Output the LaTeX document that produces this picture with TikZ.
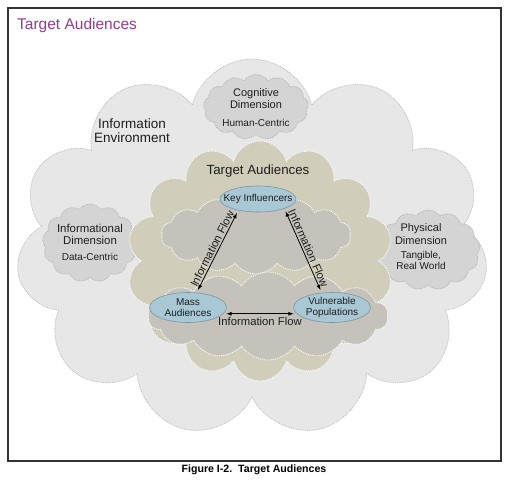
\documentclass[tikz,border=0pt]{standalone}
\usepackage{fontspec}
\setmainfont{Liberation Sans}
\usepackage{xcolor}
\usetikzlibrary{positioning}
\usetikzlibrary{shapes,arrows}

\definecolor{envgray}{RGB}{231,231,231}
\definecolor{dimgray}{RGB}{212,212,212}
\definecolor{takhaki}{RGB}{208,206,186}
\definecolor{innergray}{RGB}{196,194,186}
\definecolor{audblue}{RGB}{168,200,213}
\definecolor{audline}{RGB}{127,150,160}
\definecolor{titlepurple}{RGB}{150,60,140}
\definecolor{txtgray}{RGB}{30,30,30}

\tikzset{
  envcloud/.style={cloud, cloud puffs=11, cloud ignores aspect, fill=envgray, draw=gray!55, densely dotted, line width=0.8pt, inner sep=0pt},
  dimcloud/.style={cloud, cloud puffs=13, cloud puff arc=110, cloud ignores aspect, fill=dimgray, draw=gray!60, densely dotted, line width=0.8pt, inner sep=0pt},
  tacloud/.style={cloud, cloud puffs=14, cloud ignores aspect, fill=takhaki, draw=white, densely dotted, line width=0.9pt, inner sep=0pt},
  innercloud/.style={cloud, cloud puffs=14, cloud puff arc=110, cloud ignores aspect, fill=innergray, draw=white, densely dotted, line width=0.9pt, inner sep=0pt},
  audience/.style={ellipse, fill=audblue, draw=audline, line width=0.6pt, inner sep=0pt},
  txt/.style={inner sep=0pt, align=center, text=txtgray},
  flow/.style={latex-latex, line width=0.8pt, shorten >=3pt, shorten <=3pt},
  flowlabel/.style={font=\fontsize{11.3}{13}\selectfont, text=txtgray, inner sep=1.5pt},
  every label/.style={font=\fontsize{10}{11}\selectfont, align=center, text=txtgray}
}

\begin{document}
\begin{tikzpicture}[x=1pt,y=-1pt]
  \useasboundingbox (0,0) rectangle (510,479);
  \fill[white] (0,0) rectangle (510,479);
  \draw[line width=1.3pt, draw=black!80] (8,8) rectangle (501,461);
  \node(title) [anchor=west, inner sep=0pt, text=titlepurple, font=\fontsize{15.5}{17}\selectfont] at (17,25) {Target Audiences};

  % clouds, back to front
  \node(env) [envcloud, minimum width=472pt, minimum height=378pt] at (252,248) {};
  \node(cog) [dimcloud, minimum width=105pt, minimum height=65pt] at (256,107) {};
  \node(infodim) [dimcloud, minimum width=95pt, minimum height=78pt] at (90,243) {};
  \node(phys) [dimcloud, minimum width=104pt, minimum height=80pt] at (428,250) {};
  \node(ta) [tacloud, minimum width=266pt, minimum height=240pt] at (260,261) {};
  \node(inup) [innercloud, minimum width=190pt, minimum height=78pt] at (256,235) {};
  \node(inlow) [innercloud, minimum width=240pt, minimum height=88pt] at (268,316) {};

  % cloud texts
  \node(envtxt) [txt, font=\fontsize{13.5}{14}\selectfont] at (132,131) {Information\\Environment};
  \node(cogtxt) [txt, font=\fontsize{11}{12}\selectfont] at (256,98.5) {Cognitive\\Dimension};
  \node(cogsub) [txt, font=\fontsize{10}{11}\selectfont, below = 10pt of cogtxt] {Human-Centric};
  \node(infotxt) [txt, font=\fontsize{11.4}{12}\selectfont] at (90,234) {Informational\\Dimension};
  \node(infosub) [txt, font=\fontsize{10}{11}\selectfont, below = 9pt of infotxt] {Data-Centric};
  \node(phystxt) [txt, font=\fontsize{11}{13}\selectfont] at (421,234.5) {Physical\\Dimension};
  \node(physsub) [txt, font=\fontsize{10}{11}\selectfont, below = 6pt of phystxt] {Tangible,\\Real World};
  \node(tatxt) [txt, font=\fontsize{13.3}{15}\selectfont] at (258,171) {Target Audiences};

  % audiences
  \node(key) [audience, minimum width=76pt, minimum height=26pt, label=center:{Key Influencers}] at (258,199) {};
  \node(mass) [audience, minimum width=77pt, minimum height=30pt, label=center:{Mass\\Audiences}] at (188,307.5) {};
  \node(vuln) [audience, minimum width=77pt, minimum height=30pt, label=center:{Vulnerable\\Populations}] at (332,307.5) {};

  \draw [flow] (mass.60) -- node[flowlabel, sloped, above] {Information Flow} (key.210);
  \draw [flow] (key.340) -- node[flowlabel, sloped, above] {Information Flow} (vuln.125);
  \draw [flow] (mass.-10) -- node[flowlabel, below=2pt] {Information Flow} (vuln.190);

  \node(caption) [inner sep=0pt, font=\bfseries\fontsize{10.6}{12}\selectfont] at (254,470) {Figure I-2.\ \ Target Audiences};
\end{tikzpicture}
\end{document}
